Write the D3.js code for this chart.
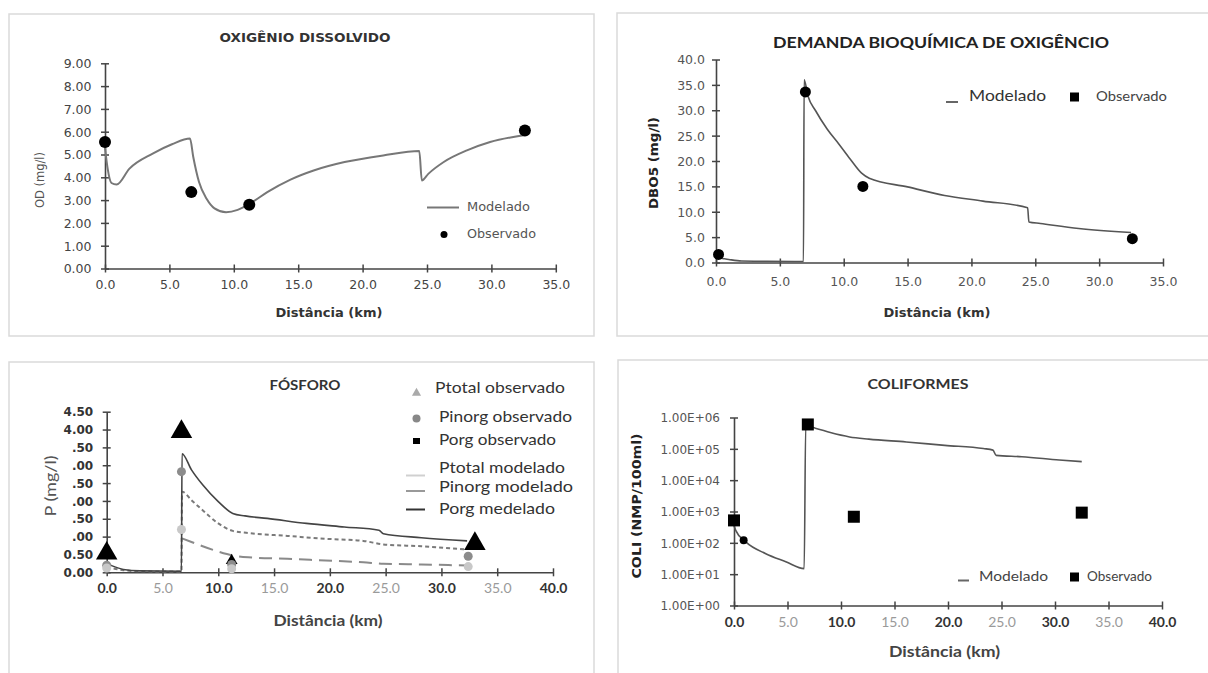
<!DOCTYPE html>
<html><head><meta charset="utf-8">
<script src="https://cdn.jsdelivr.net/npm/d3@7"></script>
<style>html,body{margin:0;padding:0;background:#fff;} svg{display:block;}</style>
</head><body><svg id="c" width="1208" height="673"></svg>
<script>
// ---------- DATA ----------
// Oxigênio dissolvido
const odDist  = [0, 0.2, 0.5, 0.9, 1.9, 3.7, 5.2, 6.6, 6.85, 7.3, 7.9, 8.5, 9.4, 10.3, 11.4, 12.6, 14.4, 16.2, 18.6, 21.6, 24.4, 24.6, 25.1, 26.3, 28.1, 29.9, 31.7, 32.5];
const odModel = [5.30, 4.40, 3.75, 3.68, 4.38, 5.04, 5.45, 5.70, 4.90, 3.79, 3.05, 2.64, 2.47, 2.57, 2.90, 3.35, 3.90, 4.30, 4.67, 4.96, 5.15, 3.86, 4.15, 4.67, 5.18, 5.55, 5.77, 5.84];
const odObsDist = [0.0, 6.7, 11.2, 32.6];
const odObs     = [5.55, 3.35, 2.80, 6.05];
const odYTicks  = ["0.00","1.00","2.00","3.00","4.00","5.00","6.00","7.00","8.00","9.00"];
const odXTicks  = ["0.0","5.0","10.0","15.0","20.0","25.0","30.0","35.0"];

// DBO
const bodDist  = [0, 0.5, 1.0, 2.0, 4.0, 6.85, 6.9, 7.2, 7.8, 8.7, 9.6, 10.5, 11.4, 12.0, 15.0, 17.9, 20.9, 24.4, 24.5, 25.4, 28.4, 32.5];
const bodModel = [1.0, 0.8, 0.6, 0.3, 0.25, 0.2, 36.0, 32.8, 29.9, 26.3, 23.4, 20.4, 17.6, 16.6, 14.9, 13.2, 12.1, 10.8, 8.0, 7.7, 6.7, 5.9];
const bodObsDist = [0.2, 7.0, 11.5, 32.6];
const bodObs     = [1.6, 33.6, 15.0, 4.7];
const bodYTicks  = ["0.0","5.0","10.0","15.0","20.0","25.0","30.0","35.0","40.0"];
const bodXTicks  = ["0.0","5.0","10.0","15.0","20.0","25.0","30.0","35.0"];

// Fósforo
const pTotalDist  = [0, 0.5, 1.5, 3.0, 6.7, 6.75, 7.6, 8.6, 10.0, 11.3, 12.4, 14.4, 17.9, 21.3, 24.4, 24.8, 28.2, 32.3];
const pTotalModel = [0.25, 0.18, 0.08, 0.04, 0.03, 3.32, 2.87, 2.45, 1.98, 1.65, 1.58, 1.51, 1.37, 1.27, 1.18, 1.08, 0.97, 0.88];
const pInorgDist  = [0, 1.5, 3.0, 6.7, 6.75, 7.6, 8.6, 10.0, 11.3, 12.7, 16.2, 19.6, 23.0, 24.8, 28.2, 32.3];
const pInorgModel = [0.15, 0.06, 0.03, 0.02, 2.26, 2.02, 1.74, 1.37, 1.16, 1.10, 1.02, 0.94, 0.88, 0.78, 0.73, 0.64];
const pOrgDist    = [6.75, 7.6, 8.6, 10.0, 11.3, 12.7, 16.2, 19.6, 23.0, 24.8, 28.2, 32.3];
const pOrgModel   = [0.95, 0.85, 0.73, 0.58, 0.47, 0.42, 0.38, 0.33, 0.28, 0.24, 0.22, 0.19];
const pTotalObsDist = [0.0, 6.7, 11.2, 33.0];
const pTotalObs     = [0.53, 3.94, 0.33, 0.80];
const pInorgObsDist = [0.0, 6.7, 11.2, 32.4];
const pInorgObs     = [0.20, 2.82, 0.22, 0.45];
const pOrgObsDist   = [0.0, 6.7, 11.2, 32.4];
const pOrgObs       = [0.12, 1.20, 0.10, 0.16];
const pYTicks = ["0.00","0.50",".00",".50",".00",".50",".00",".50","4.00","4.50"];
const pXTicks = ["0.0","5.0","10.0","15.0","20.0","25.0","30.0","35.0","40.0"];
const pLegend = ["Ptotal observado","Pinorg observado","Porg observado","Ptotal modelado","Pinorg modelado","Porg medelado"];

// Coliformes
const coliDist  = [0, 0.16, 1.1, 2.97, 4.84, 6.56, 6.7, 7.6, 9.0, 10.8, 12.6, 16.1, 19.7, 23.3, 24.2, 24.5, 26.9, 30.4, 32.5];
const coliModel = [355, 251, 107, 45, 25, 15, 525000, 457000, 331000, 240000, 204000, 166000, 129000, 102000, 91000, 62000, 56000, 44000, 39000];
const coliObsDist = [0.0, 6.9, 11.2, 32.5];
const coliObs     = [520, 600000, 680, 920];
const coliCircDist = [0.9];
const coliCirc     = [120];
const coliYTicks = ["1.00E+00","1.00E+01","1.00E+02","1.00E+03","1.00E+04","1.00E+05","1.00E+06"];
const coliXTicks = ["0.0","5.0","10.0","15.0","20.0","25.0","30.0","35.0","40.0"];

// ---------- DRAW ----------
const svg = d3.select("#c");
const TAH = "'DejaVu Sans', Verdana, sans-serif";
const CAL = "Lato, 'Open Sans', sans-serif";

// panel boxes
[[9,14,585,322],[617,13,600,323],[9,362,585,330],[618,360,600,330]].forEach(b=>{
  svg.append("rect").attr("x",b[0]).attr("y",b[1]).attr("width",b[2]).attr("height",b[3])
    .attr("fill","#fff").attr("stroke","#dadada").attr("stroke-width",1.5);
});

function txt(x,y,s,o){
  const t = svg.append("text").attr("x",x).attr("y",y).text(s)
    .attr("font-family",o.ff||TAH).attr("font-size",o.fs||12).attr("fill",o.fill||"#333")
    .attr("font-weight",o.fw||"normal").attr("text-anchor",o.anchor||"start")
    .attr("dominant-baseline","middle");
  if(o.len){ t.attr("textLength",o.len).attr("lengthAdjust","spacingAndGlyphs"); }
  if(o.rot){ t.attr("transform",`rotate(-90,${x},${y})`); }
  return t;
}

function axes(x, y, xTickVals, xLabels, yTickVals, yLabels, o){
  const gx = svg.append("g").attr("transform",`translate(0,${y.range()[0]})`)
    .call(d3.axisBottom(x).tickValues(xTickVals).tickFormat((d,i)=>xLabels[i]).tickSizeInner(4).tickSizeOuter(0));
  const gy = svg.append("g").attr("transform",`translate(${x.range()[0]},0)`)
    .call(d3.axisLeft(y).tickValues(yTickVals).tickFormat((d,i)=>yLabels[i]).tickSizeInner(4).tickSizeOuter(0));
  [gx,gy].forEach(g=>{
    g.select(".domain").attr("stroke","#444").attr("stroke-width",1.6);
    g.selectAll(".tick line").attr("stroke","#444").attr("stroke-width",1.5);
  });
  gx.selectAll(".tick line").attr("y1",-4).attr("y2",4);
  gy.selectAll(".tick line").attr("x1",4).attr("x2",-4);
  gx.selectAll(".tick text").attr("y",o.xOff).attr("dy","0.35em")
    .attr("font-family",o.xff).attr("font-size",o.xfs).attr("font-weight",o.xfw||"normal")
    .attr("fill",(d,i)=> o.alt ? (i%2 ? "#9a9a9a" : "#333") : o.xfill);
  if(o.alt) gx.selectAll(".tick text").attr("font-weight",(d,i)=> i%2 ? "normal" : "bold");
  gy.selectAll(".tick text").attr("x",-o.yOff).attr("dy","0.35em")
    .attr("font-family",o.yff).attr("font-size",o.yfs).attr("font-weight",o.yfw||"normal").attr("fill",o.yfill);
}

// ===== Panel 1: OD =====
{
  const x = d3.scaleLinear().domain([0,35]).range([105,555.8]);
  const y = d3.scaleLinear().domain([0,9]).range([268.5,63.3]);
  axes(x,y,d3.range(0,36,5),odXTicks,d3.range(0,10,1),odYTicks,
    {xOff:16.5,xff:TAH,xfs:12.5,xfill:"#444",yOff:13.5,yff:TAH,yfs:12.5,yfill:"#444"});
  const line = d3.line().x((d,i)=>x(odDist[i])).y(d=>y(d)).curve(d3.curveMonotoneX);
  svg.append("path").attr("d",line(odModel)).attr("fill","none").attr("stroke","#777").attr("stroke-width",2);
  svg.append("g").selectAll("circle").data(odObs).join("circle")
    .attr("cx",(d,i)=>x(odObsDist[i])).attr("cy",d=>y(d)).attr("r",6).attr("fill","#000");
  txt(305,38.5,"OXIGÊNIO  DISSOLVIDO",{fw:"bold",fs:12.5,anchor:"middle",len:171,fill:"#333"});
  txt(329,313,"Distância (km)",{fw:"bold",fs:12,anchor:"middle",len:107,fill:"#333"});
  txt(40,180,"OD (mg/l)",{fs:12,anchor:"middle",len:56,fill:"#555",rot:true});
  svg.append("line").attr("x1",427).attr("x2",459).attr("y1",207.5).attr("y2",207.5).attr("stroke","#777").attr("stroke-width",2);
  txt(467,207.5,"Modelado",{fs:12.5,fill:"#555",len:63});
  svg.append("circle").attr("cx",444).attr("cy",234.5).attr("r",3.5).attr("fill","#000");
  txt(467,234.5,"Observado",{fs:12.5,fill:"#555",len:69});
}

// ===== Panel 2: DBO =====
{
  const x = d3.scaleLinear().domain([0,35]).range([716,1163]);
  const y = d3.scaleLinear().domain([0,40]).range([262.5,59.5]);
  axes(x,y,d3.range(0,36,5),bodXTicks,d3.range(0,41,5),bodYTicks,
    {xOff:19,xff:TAH,xfs:12.5,xfill:"#555",yOff:11,yff:TAH,yfs:12.5,yfill:"#555"});
  const line = d3.line().x((d,i)=>x(bodDist[i])).y(d=>y(d)).curve(d3.curveMonotoneX);
  svg.append("path").attr("d",line(bodModel)).attr("fill","none").attr("stroke","#555").attr("stroke-width",1.6);
  svg.append("g").selectAll("circle").data(bodObs).join("circle")
    .attr("cx",(d,i)=>x(bodObsDist[i])).attr("cy",d=>y(d)).attr("r",5.5).attr("fill","#000");
  txt(941,44,"DEMANDA BIOQUÍMICA DE OXIGÊNCIO",{ff:CAL,fw:"bold",fs:16,anchor:"middle",len:336,fill:"#222"});
  txt(937,313,"Distância (km)",{fw:"bold",fs:12,anchor:"middle",len:107,fill:"#333"});
  txt(654,163,"DBO5  (mg/l)",{fw:"bold",fs:11.5,anchor:"middle",len:92,fill:"#222",rot:true});
  svg.append("line").attr("x1",946).attr("x2",958).attr("y1",102).attr("y2",102).attr("stroke","#666").attr("stroke-width",2);
  txt(969,97,"Modelado",{ff:CAL,fs:15,fill:"#333",len:77});
  svg.append("rect").attr("x",1070).attr("y",92.5).attr("width",9).attr("height",9).attr("fill","#000");
  txt(1096,97.5,"Observado",{ff:CAL,fs:12.5,fill:"#444",len:71});
}

// ===== Panel 3: Fósforo =====
{
  const x = d3.scaleLinear().domain([0,40]).range([106.7,553]);
  const y = d3.scaleLinear().domain([0,4.5]).range([572.3,411.7]);
  axes(x,y,d3.range(0,41,5),pXTicks,d3.range(0,4.51,0.5),pYTicks,
    {xOff:16,xff:CAL,xfs:14,alt:true,yOff:13.5,yff:TAH,yfs:12,yfw:"bold",yfill:"#333"});
  const mk = dist => d3.line().x((d,i)=>x(dist[i])).y(d=>y(d)).curve(d3.curveMonotoneX);
  svg.append("path").attr("d",mk(pOrgDist)(pOrgModel)).attr("fill","none").attr("stroke","#8a8a8a").attr("stroke-width",2).attr("stroke-dasharray","13,7");
  svg.append("path").attr("d",mk(pInorgDist)(pInorgModel)).attr("fill","none").attr("stroke","#7a7a7a").attr("stroke-width",2).attr("stroke-dasharray","4,3");
  svg.append("path").attr("d",mk(pTotalDist)(pTotalModel)).attr("fill","none").attr("stroke","#444").attr("stroke-width",1.6);
  const tri = d3.symbol().type(d3.symbolTriangle).size(200);
  svg.append("g").selectAll("path").data(pTotalObs).join("path")
    .attr("d",(d,i)=> i===2 ? d3.symbol().type(d3.symbolTriangle).size(60)() : tri())
    .attr("transform",(d,i)=>`translate(${x(pTotalObsDist[i])},${y(d)})`).attr("fill","#000");
  svg.append("g").selectAll("circle").data(pInorgObs).join("circle")
    .attr("cx",(d,i)=>x(pInorgObsDist[i])).attr("cy",d=>y(d)).attr("r",4.5).attr("fill","#8c8c8c");
  svg.append("g").selectAll("circle").data(pOrgObs).join("circle")
    .attr("cx",(d,i)=>x(pOrgObsDist[i])).attr("cy",d=>y(d)).attr("r",4.5).attr("fill","#c8c8c8");
  txt(305,386.5,"FÓSFORO",{ff:CAL,fw:"bold",fs:14,anchor:"middle",len:71,fill:"#333"});
  txt(328,622,"Distância (km)",{ff:CAL,fw:"bold",fs:15,anchor:"middle",len:109,fill:"#444"});
  txt(52,486,"P (mg/l)",{ff:CAL,fs:15,anchor:"middle",len:61,fill:"#555",rot:true});
  // legend
  svg.append("path").attr("d",d3.symbol().type(d3.symbolTriangle).size(36)()).attr("transform","translate(416.5,393)").attr("fill","#aaa");
  svg.append("circle").attr("cx",416.5).attr("cy",418.5).attr("r",4).attr("fill","#888");
  svg.append("rect").attr("x",413).attr("y",438).attr("width",7).attr("height",6).attr("fill","#000");
  svg.append("line").attr("x1",406).attr("x2",425).attr("y1",475.5).attr("y2",475.5).attr("stroke","#d0d0d0").attr("stroke-width",2);
  svg.append("line").attr("x1",406).attr("x2",425).attr("y1",491).attr("y2",491).attr("stroke","#999").attr("stroke-width",2);
  svg.append("line").attr("x1",406).attr("x2",425).attr("y1",509.5).attr("y2",509.5).attr("stroke","#333").attr("stroke-width",2);
  const ly = [389, 418.5, 441, 469.5, 488, 510];
  const lx = [435, 439, 439, 439, 439, 439];
  const ll = [130, 133, 117, 126, 134, 116];
  pLegend.forEach((s,i)=> txt(lx[i],ly[i],s,{ff:CAL,fs:15,fill:"#333",len:ll[i]}));
}

// ===== Panel 4: Coliformes =====
{
  const x = d3.scaleLinear().domain([0,40]).range([734,1162]);
  const y = d3.scaleLog().domain([1,1e6]).range([605.5,417.5]);
  axes(x,y,d3.range(0,41,5),coliXTicks,[1,10,100,1e3,1e4,1e5,1e6],coliYTicks,
    {xOff:17,xff:CAL,xfs:14,alt:true,yOff:14,yff:TAH,yfs:12,yfill:"#555"});
  const line = d3.line().x((d,i)=>x(coliDist[i])).y(d=>y(d)).curve(d3.curveMonotoneX);
  svg.append("path").attr("d",line(coliModel)).attr("fill","none").attr("stroke","#555").attr("stroke-width",1.6);
  svg.append("g").selectAll("rect").data(coliObs).join("rect")
    .attr("x",(d,i)=>x(coliObsDist[i])-6).attr("y",d=>y(d)-6).attr("width",12).attr("height",12).attr("fill","#000");
  svg.append("g").selectAll("circle").data(coliCirc).join("circle")
    .attr("cx",(d,i)=>x(coliCircDist[i])).attr("cy",d=>y(d)).attr("r",4).attr("fill","#000");
  txt(918,385,"COLIFORMES",{ff:CAL,fw:"bold",fs:14,anchor:"middle",len:101,fill:"#333"});
  txt(944.5,653,"Distância (km)",{ff:CAL,fw:"bold",fs:15,anchor:"middle",len:111,fill:"#444"});
  txt(637,506,"COLI (NMP/100ml)",{fw:"bold",fs:12,anchor:"middle",len:145,fill:"#222",rot:true});
  svg.append("line").attr("x1",958).attr("x2",969).attr("y1",580.5).attr("y2",580.5).attr("stroke","#666").attr("stroke-width",2);
  txt(979,577,"Modelado",{ff:CAL,fs:14,fill:"#444",len:69});
  svg.append("rect").attr("x",1070).attr("y",572.5).attr("width",9).attr("height",9).attr("fill","#000");
  txt(1087,577.5,"Observado",{ff:CAL,fs:12.5,fill:"#444",len:65});
}
</script></body></html>
